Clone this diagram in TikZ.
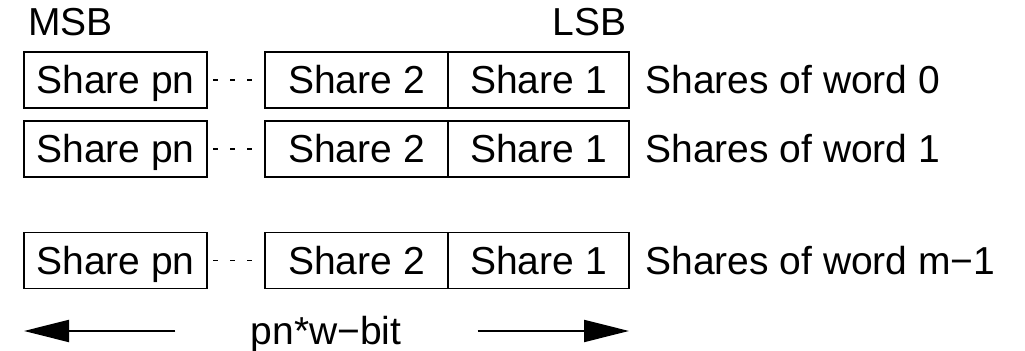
\documentclass[tikz,border=0pt]{standalone}
\usepackage{fontspec}
\setmainfont{Liberation Sans}
\usetikzlibrary{positioning,arrows.meta}

\tikzset{
  sharebox/.style={draw, line width=0.9pt, inner sep=0pt, outer sep=0pt, minimum height=28pt, text height=14pt, text depth=0pt},
  wordlabel/.style={inner sep=0pt, anchor=west, text height=14pt, text depth=0pt},
  gapdots/.style={line width=0.7pt, dash pattern=on 2.5pt off 6pt, dash phase=5.5pt},
  widtharrow/.style={line width=1pt, -{Triangle[length=22.5pt, width=11pt]}}
}

\begin{document}
\begin{tikzpicture}[x=0.5pt, y=0.5pt, font=\fontsize{19.5pt}{23pt}\selectfont]
\useasboundingbox (0,0) rectangle (1025,351);
% word 0
\node[sharebox, minimum width=91.5pt] (pn0) at (115.5,271) {Share pn};
\node[sharebox, minimum width=91.5pt, right=29pt of pn0] (s20) {Share 2};
\node[sharebox, minimum width=90.5pt, right=0pt of s20] (s10) {Share 1};
\node[wordlabel, right=8pt of s10] (w0) {Shares of word 0};
\draw[gapdots] (pn0.east) -- (s20.west);
% word 1
\node[sharebox, minimum width=91.5pt] (pn1) at (115.5,202) {Share pn};
\node[sharebox, minimum width=91.5pt, right=29pt of pn1] (s21) {Share 2};
\node[sharebox, minimum width=90.5pt, right=0pt of s21] (s11) {Share 1};
\node[wordlabel, right=8pt of s11] (w1) {Shares of word 1};
\draw[gapdots] (pn1.east) -- (s21.west);
% word m-1, after the gap
\node[sharebox, minimum width=91.5pt] (pn2) at (115.5,90.5) {Share pn};
\node[sharebox, minimum width=91.5pt, right=29pt of pn2] (s22) {Share 2};
\node[sharebox, minimum width=90.5pt, right=0pt of s22] (s12) {Share 1};
\node[wordlabel, right=8pt of s12] (w2) {Shares of word m−1};
\draw[gapdots] (pn2.east) -- (s22.west);
% bit order on top
\node[inner sep=0pt, above=8pt of pn0.north west, anchor=base west, xshift=2pt] (msb) {MSB};
\node[inner sep=0pt, above=8pt of s10.north east, anchor=base east, xshift=-1pt] (lsb) {LSB};
% total width below
\node[inner sep=0pt, anchor=base] (bits) at (326,6) {pn*w−bit};
\path (bits.base west) ++(-75,14) coordinate (ltail);
\path (bits.base east) ++(76,14) coordinate (rtail);
\draw[widtharrow] (ltail) -- (ltail -| pn2.west);
\draw[widtharrow] (rtail) -- (rtail -| s12.east);
\end{tikzpicture}
\end{document}
